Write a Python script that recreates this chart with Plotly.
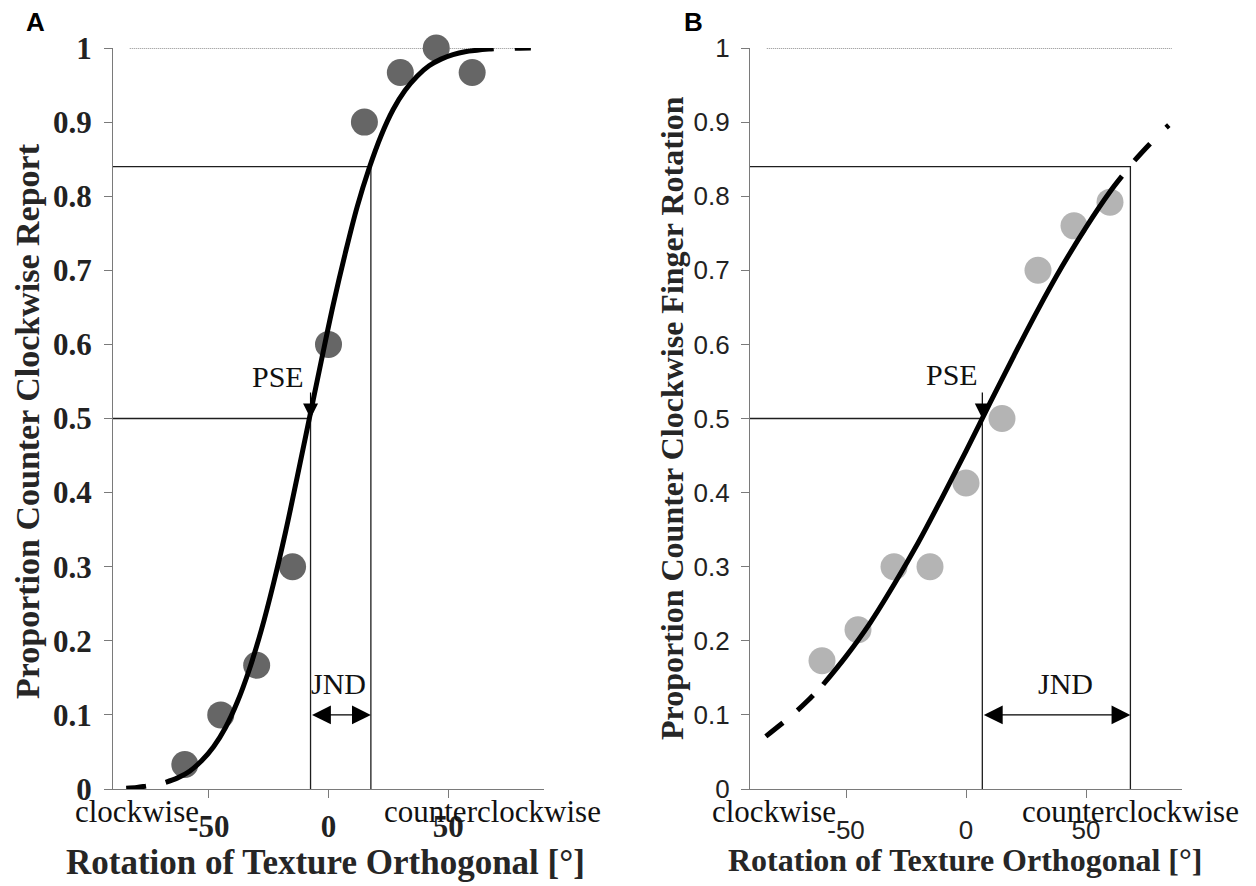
import plotly.graph_objects as go

# ---------------- data ----------------
stim_x = [-60, -45, -30, -15, 0, 15, 30, 45, 60]
prop_a = [0.033, 0.10, 0.167, 0.30, 0.60, 0.90, 0.967, 1.00, 0.967]
prop_b = [0.173, 0.215, 0.30, 0.30, 0.413, 0.50, 0.70, 0.76, 0.792]

# fitted psychometric curves
fit_a_x = [-68, -63, -58, -53, -48, -43, -38, -33, -28, -23, -18, -13, -8, -3,
           2, 7, 12, 17, 22, 27, 32, 37, 42, 47, 52, 57, 62, 67, 69]
fit_a_y = [0.009, 0.015, 0.024, 0.038, 0.057, 0.083, 0.118, 0.162, 0.215, 0.277,
           0.346, 0.422, 0.50, 0.578, 0.654, 0.723, 0.786, 0.838, 0.882, 0.917,
           0.943, 0.962, 0.976, 0.985, 0.991, 0.995, 0.997, 0.9985, 0.999]
ext_a_left_x = [-84.5, -80, -76, -72, -68]
ext_a_left_y = [0.001, 0.002, 0.004, 0.006, 0.009]
ext_a_right_x = [84.5, 80, 76, 72, 69]
ext_a_right_y = [1.0, 0.9998, 0.9995, 0.999, 0.999]

fit_b_x = [-59.5, -50, -40, -30, -20, -10, 0, 10, 20, 30, 40, 50, 60, 65]
fit_b_y = [0.141, 0.179, 0.224, 0.276, 0.332, 0.393, 0.456, 0.521, 0.585, 0.647,
           0.705, 0.758, 0.806, 0.827]
ext_b_left_x = [-83.4, -78, -72, -66, -59.5]
ext_b_left_y = [0.071, 0.085, 0.101, 0.119, 0.141]
ext_b_right_x = [70.2, 75, 80, 84.5]
ext_b_right_y = [0.848, 0.865, 0.882, 0.896]

# reference levels
pse_a, jnd_a = -7.5, 17.7
pse_b, jnd_b = 6.8, 68.5
level_pse, level_jnd = 0.5, 0.84
ceiling = 1.0
ceil_a = [-83, 84.5]
ceil_b = [-83, 85.7]
x_range = [-90, 90]
x_ticks = [-50, 0, 50]
x_ticktext = ["-50", "0", "50"]
y_ticks = [0, 0.1, 0.2, 0.3, 0.4, 0.5, 0.6, 0.7, 0.8, 0.9, 1]
y_ticktext = ["0", "0.1", "0.2", "0.3", "0.4", "0.5", "0.6", "0.7", "0.8", "0.9", "1"]

xtitle = "Rotation of Texture Orthogonal [°]"
ytitle_a = "Proportion Counter Clockwise Report"
ytitle_b = "Proportion Counter Clockwise Finger Rotation"
dir_left = "clockwise"
dir_right = "counterclockwise"

# ---------------- layout helpers ----------------
W, H = 1256, 886
def px(x):
    return x / W
def py(y):
    return 1 - y / H

SERIF = "Liberation Serif, Times New Roman, serif"
SANS = "Liberation Sans, Arial, sans-serif"
AXC = "#7a7a7a"
LINEC = "#1e1e1e"

fig = go.Figure()

def add_panel(xa, ya, xs, ys, mcolor, fx, fy, extl, extr, dashl, dashr, pse, jnd, ceil):
    # reference lines (0.5 / 0.84 guides)
    fig.add_trace(go.Scatter(
        x=[x_range[0], pse, pse, None, x_range[0], jnd, jnd],
        y=[level_pse, level_pse, 0, None, level_jnd, level_jnd, 0],
        mode="lines", line=dict(color=LINEC, width=1.3),
        xaxis=xa, yaxis=ya, cliponaxis=False, hoverinfo="skip"))
    # ceiling dotted line
    fig.add_trace(go.Scatter(
        x=ceil, y=[ceiling, ceiling], mode="lines",
        line=dict(color="#222222", width=1, dash="1px,1px"),
        xaxis=xa, yaxis=ya, cliponaxis=False, hoverinfo="skip"))
    # data points
    fig.add_trace(go.Scatter(
        x=xs, y=ys, mode="markers",
        marker=dict(size=27, color=mcolor, line=dict(width=0)),
        xaxis=xa, yaxis=ya, cliponaxis=False))
    # fitted curve
    fig.add_trace(go.Scatter(
        x=fx, y=fy, mode="lines", line=dict(color="black", width=5, shape="spline"),
        xaxis=xa, yaxis=ya, cliponaxis=False, hoverinfo="skip"))
    for (ex, ey), d in ((extl, dashl), (extr, dashr)):
        fig.add_trace(go.Scatter(
            x=ex, y=ey, mode="lines",
            line=dict(color="black", width=5, shape="spline", dash=d),
            xaxis=xa, yaxis=ya, cliponaxis=False, hoverinfo="skip"))

add_panel("x", "y", stim_x, prop_a, "#666666", fit_a_x, fit_a_y,
          (ext_a_left_x, ext_a_left_y), (ext_a_right_x, ext_a_right_y),
          "20px,20px", "16px,22px", pse_a, jnd_a, ceil_a)
add_panel("x2", "y2", stim_x, prop_b, "#b4b4b4", fit_b_x, fit_b_y,
          (ext_b_left_x, ext_b_left_y), (ext_b_right_x, ext_b_right_y),
          "22px,19px", "23px,23px", pse_b, jnd_b, ceil_b)

def xaxis_cfg(dom, anchor, font, standoff):
    return dict(domain=dom, anchor=anchor, range=x_range, showline=True, linecolor=AXC,
                linewidth=1.3, ticks="outside", ticklen=8, tickcolor=AXC, tickwidth=1.3,
                showgrid=False, zeroline=False, tickvals=x_ticks, ticktext=x_ticktext,
                tickfont=font, ticklabelstandoff=standoff, fixedrange=True,
                automargin=False)

def yaxis_cfg(dom, anchor, font):
    return dict(domain=dom, anchor=anchor, range=[0, 1], showline=True, linecolor=AXC,
                linewidth=1.3, ticks="outside", ticklen=8, tickcolor=AXC, tickwidth=1.3,
                showgrid=False, zeroline=False, tickvals=y_ticks, ticktext=y_ticktext,
                tickfont=font, ticklabelstandoff=6, fixedrange=True, automargin=False)

font_a = dict(family=SERIF, size=31, color="#222222", weight="bold")
font_b = dict(family=SANS, size=26, color="#222222")
ydom = [py(789), py(48)]

fig.update_layout(
    template=None,
    width=W, height=H, margin=dict(l=0, r=0, t=0, b=0, pad=0, autoexpand=False),
    paper_bgcolor="white", plot_bgcolor="white", showlegend=False,
    xaxis=xaxis_cfg([px(113), px(544)], "y", font_a, 2),
    yaxis=yaxis_cfg(ydom, "x", font_a),
    xaxis2=xaxis_cfg([px(750), px(1182)], "y2", font_b, 10),
    yaxis2=yaxis_cfg(ydom, "x2", font_b),
)

ann = []
def text_ann(text, x, y, size, family=SERIF, weight="normal", angle=0, xref="paper",
             yref="paper", color="#111111"):
    ann.append(dict(text=text, x=x, y=y, xref=xref, yref=yref, showarrow=False,
                    xanchor="center", yanchor="middle", textangle=angle,
                    font=dict(family=family, size=size, color=color, weight=weight)))

# panel letters
text_ann("A", px(35), py(22), 26, family=SANS, weight="bold", color="black")
text_ann("B", px(693), py(22), 26, family=SANS, weight="bold", color="black")
# axis titles
text_ann(xtitle, px(325), py(862), 35, weight="bold", color="#262626")
text_ann(xtitle, px(965), py(860), 32, weight="bold", color="#262626")
text_ann(ytitle_a, px(28), py(421), 34, weight="bold", angle=-90, color="#262626")
text_ann(ytitle_b, px(672), py(418), 32, weight="bold", angle=-90, color="#262626")
# direction labels (x in data units, y in paper units)
for xr in ("x", "x2"):
    text_ann(dir_left, -80, py(811), 31, xref=xr, yref="paper")
    text_ann(dir_right, 68.5, py(811), 31, xref=xr, yref="paper")
# PSE / JND labels
text_ann("PSE", -21, 0.557, 30, xref="x", yref="y")
text_ann("JND", 4, 0.143, 30, xref="x", yref="y")
text_ann("PSE", -6, 0.56, 30, xref="x2", yref="y2")
text_ann("JND", 41.6, 0.143, 30, xref="x2", yref="y2")

# arrows
for xr, yr, pse, jnd in (("x", "y", pse_a, jnd_a), ("x2", "y2", pse_b, jnd_b)):
    ann.append(dict(text="", x=pse, y=level_pse, ax=pse, ay=0.537, xref=xr, yref=yr,
                    axref=xr, ayref=yr, showarrow=True, arrowhead=2, arrowsize=2.5,
                    arrowwidth=1.2, arrowcolor="black"))
    ann.append(dict(text="", x=jnd, y=0.1, ax=pse, ay=0.1, xref=xr, yref=yr,
                    axref=xr, ayref=yr, showarrow=True, arrowhead=2, startarrowhead=2,
                    arrowside="end+start", arrowsize=2.9, startarrowsize=2.9,
                    arrowwidth=1.3, arrowcolor="black"))

fig.update_layout(annotations=ann)
fig.write_html("out.html")
